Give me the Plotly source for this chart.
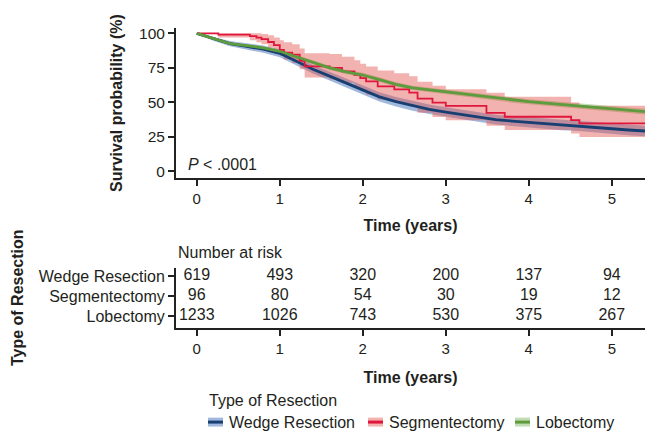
import plotly.graph_objects as go

W, H = 645, 433

# ---------------- data ----------------
years = [0, 1, 2, 3, 4, 5]
groups = ["Wedge Resection", "Segmentectomy", "Lobectomy"]
risk_wedge = [619, 493, 320, 200, 137, 94]
risk_seg = [96, 80, 54, 30, 19, 12]
risk_lobe = [1233, 1026, 743, 530, 375, 267]

# Wedge resection & lobectomy survival read every 0.2 years
km_time = [0.0, 0.2, 0.4, 0.6, 0.8, 1.0, 1.2, 1.4, 1.6, 1.8, 2.0, 2.2, 2.4, 2.6,
           2.8, 3.0, 3.2, 3.4, 3.6, 3.8, 4.0, 4.2, 4.4, 4.6, 4.8, 5.0, 5.2, 5.4]
wedge_surv = [100, 96, 92.5, 90.5, 88.5, 85.5, 79.5, 74, 69, 64, 59, 54, 50.5, 47.5,
              45, 43, 41, 39, 37.5, 36.5, 35.5, 34.5, 33.5, 33, 32, 31, 30, 29.3]
wedge_lo = [100, 94.6, 90.6, 88.2, 85.9, 82.7, 76.5, 70.9, 65.8, 60.7, 55.7, 50.6, 47.1, 44,
            41.5, 39.5, 37.4, 35.4, 33.9, 32.9, 31.8, 30.8, 29.8, 29.3, 28.2, 27.2, 26.2, 25.5]
wedge_hi = [100, 97.4, 94.4, 92.8, 91.1, 88.3, 82.5, 77.1, 72.2, 67.3, 62.3, 57.4, 53.9, 51,
            48.5, 46.5, 44.6, 42.6, 41.1, 40.1, 39.2, 38.2, 37.2, 36.7, 35.8, 34.8, 33.8, 33.1]
lobe_surv = [100, 96.5, 92.5, 91, 89.5, 87, 83, 78.5, 75, 72, 69.8, 66.5, 63, 60.5,
             59, 57.5, 56, 54.5, 53, 51.5, 50.5, 49.5, 48.5, 47.5, 46.5, 45.5, 44.5, 43.3]
lobe_lo = [100, 95.8, 91.6, 90, 88.4, 85.8, 81.7, 77.1, 73.5, 70.5, 68.2, 64.9, 61.4, 58.9,
           57.3, 55.8, 54.3, 52.8, 51.3, 49.8, 48.7, 47.7, 46.7, 45.7, 44.6, 43.6, 42.6, 41.3]
lobe_hi = [100, 97.2, 93.4, 92, 90.6, 88.2, 84.3, 79.9, 76.5, 73.5, 71.4, 68.1, 64.6, 62.1,
           60.7, 59.2, 57.7, 56.2, 54.7, 53.2, 52.3, 51.3, 50.3, 49.3, 48.4, 47.4, 46.4, 45.3]

# Segmentectomy step curve
seg_time = [0, 0.26, 0.64, 0.72, 0.78, 0.86, 0.93, 1.0, 1.05, 1.15, 1.24, 1.3, 1.6,
            1.75, 1.9, 1.97, 2.04, 2.18, 2.38, 2.56, 2.66, 2.84, 3.0, 3.49, 3.71,
            4.51, 4.61, 5.4]
seg_surv = [100, 99, 97.9, 96.9, 95.8, 93.7, 91.5, 88, 86, 84.5, 80, 76, 75,
            72.5, 70, 67.6, 65.2, 61.6, 59.4, 57, 52.7, 49.8, 47.5, 42.4, 39.6,
            37.2, 34.8, 34.8]
seg_lo = [100, 97, 95, 93.5, 92, 89.5, 87, 83.5, 81, 78.5, 74, 68, 66.5,
          64, 61, 58, 55.5, 52, 49.5, 47, 42.5, 39.5, 37, 33, 30,
          27.5, 25, 25]
seg_hi = [100, 100, 100, 100, 99.5, 98.5, 97, 95, 93.5, 92, 89, 85.5, 85,
          83, 80.5, 78, 76, 73, 71, 69, 65, 62, 59.5, 57, 54,
          50, 47.5, 47.5]

line_colors = ["#173f72", "#e0163c", "#5c9c3e"]
band_colors = ["rgba(70,115,190,0.50)", "rgba(225,80,72,0.44)", "rgba(120,180,90,0.45)"]

TXT = "#231f20"
FONT = "Liberation Sans, Arial, sans-serif"

fig = go.Figure()

# ---------------- bands ----------------
def band(t, lo, hi, color, shape):
    fig.add_trace(go.Scatter(x=t, y=lo, mode="lines", line=dict(width=0, shape=shape),
                             showlegend=False, hoverinfo="skip", xaxis="x", yaxis="y"))
    fig.add_trace(go.Scatter(x=t, y=hi, mode="lines", line=dict(width=0, shape=shape),
                             fill="tonexty", fillcolor=color, showlegend=False,
                             hoverinfo="skip", xaxis="x", yaxis="y"))

band(km_time, wedge_lo, wedge_hi, band_colors[0], "linear")
band(km_time, lobe_lo, lobe_hi, band_colors[2], "linear")
band(seg_time, seg_lo, seg_hi, band_colors[1], "hv")

# ---------------- curves ----------------
fig.add_trace(go.Scatter(x=km_time, y=wedge_surv, mode="lines", name=groups[0],
                         line=dict(color=line_colors[0], width=2.8), showlegend=False))
fig.add_trace(go.Scatter(x=seg_time, y=seg_surv, mode="lines", name=groups[1],
                         line=dict(color=line_colors[1], width=1.8, shape="hv"), showlegend=False))
fig.add_trace(go.Scatter(x=km_time, y=lobe_surv, mode="lines", name=groups[2],
                         line=dict(color=line_colors[2], width=2.8), showlegend=False))

# ---------------- risk table ----------------
for vals, row in [(risk_wedge, 3), (risk_seg, 2), (risk_lobe, 1)]:
    fig.add_trace(go.Scatter(x=years, y=[row] * len(years), mode="text",
                             text=[str(v) for v in vals],
                             textfont=dict(size=16, color=TXT, family=FONT),
                             textposition="middle center", showlegend=False,
                             hoverinfo="skip", xaxis="x2", yaxis="y2"))

axis_common = dict(showline=True, linewidth=2, linecolor="#222", ticks="outside",
                   ticklen=6, tickwidth=2, tickcolor="#222", showgrid=False,
                   zeroline=False, tickfont=dict(size=15, color=TXT, family=FONT))

xl = 176 / W
fig.update_layout(
    width=W, height=H,
    margin=dict(l=0, r=0, t=0, b=0),
    paper_bgcolor="white", plot_bgcolor="white",
    font=dict(family=FONT, color=TXT),
    xaxis=dict(domain=[xl, 1], range=[-0.25, 5.4], anchor="y", tickvals=years,
               title=dict(text="<b>Time (years)</b>", font=dict(size=16), standoff=13),
               **axis_common),
    yaxis=dict(domain=[1 - 177 / H, 1 - 25 / H], range=[-5, 104], anchor="x",
               tickvals=[0, 25, 50, 75, 100],
               title=dict(text="<b>Survival probability (%)</b>", font=dict(size=16), standoff=12),
               **{**axis_common, "tickfont": dict(size=15.5, color=TXT, family=FONT)}),
    xaxis2=dict(domain=[xl, 1], range=[-0.25, 5.4], anchor="y2", tickvals=years,
                title=dict(text="<b>Time (years)</b>", font=dict(size=16), standoff=16),
                **axis_common),
    yaxis2=dict(domain=[1 - 328 / H, 1 - 267 / H], range=[0.4, 3.45], anchor="x2",
                tickvals=[3, 2, 1], ticktext=groups,
                title=dict(text="<b>Type of Resection</b>", font=dict(size=16), standoff=11),
                **{**axis_common, "tickfont": dict(size=16, color=TXT, family=FONT)}),
    showlegend=False,
)

fig.add_annotation(x=-0.13, y=5, xref="x", yref="y", text="<i>P</i> < .0001",
                   showarrow=False, xanchor="left", yanchor="middle",
                   font=dict(size=16, color=TXT))
fig.add_annotation(x=xl, y=1 - 252 / H, xref="paper", yref="paper", text="Number at risk",
                   showarrow=False, xanchor="left", yanchor="middle",
                   font=dict(size=16, color=TXT))

# ---------------- legend (drawn) ----------------
fig.add_annotation(x=207 / W, y=1 - 401 / H, xref="paper", yref="paper",
                   text="Type of Resection", showarrow=False, xanchor="left",
                   yanchor="middle", font=dict(size=16, color=TXT))
leg_x = [208, 368, 515]
ly = 423
for gx, name, lc, bc in zip(leg_x, groups, line_colors, band_colors):
    fig.add_shape(type="rect", xref="paper", yref="paper",
                  x0=gx / W, x1=(gx + 15) / W, y0=1 - (ly + 4.5) / H, y1=1 - (ly - 4.5) / H,
                  fillcolor=bc, line=dict(width=0))
    fig.add_shape(type="line", xref="paper", yref="paper",
                  x0=gx / W, x1=(gx + 15) / W, y0=1 - ly / H, y1=1 - ly / H,
                  line=dict(color=lc, width=3))
    fig.add_annotation(x=(gx + 19) / W, y=1 - ly / H, xref="paper", yref="paper",
                       text=name, showarrow=False, xanchor="left", yanchor="middle",
                       font=dict(size=16, color=TXT))

fig.write_html("out.html")
